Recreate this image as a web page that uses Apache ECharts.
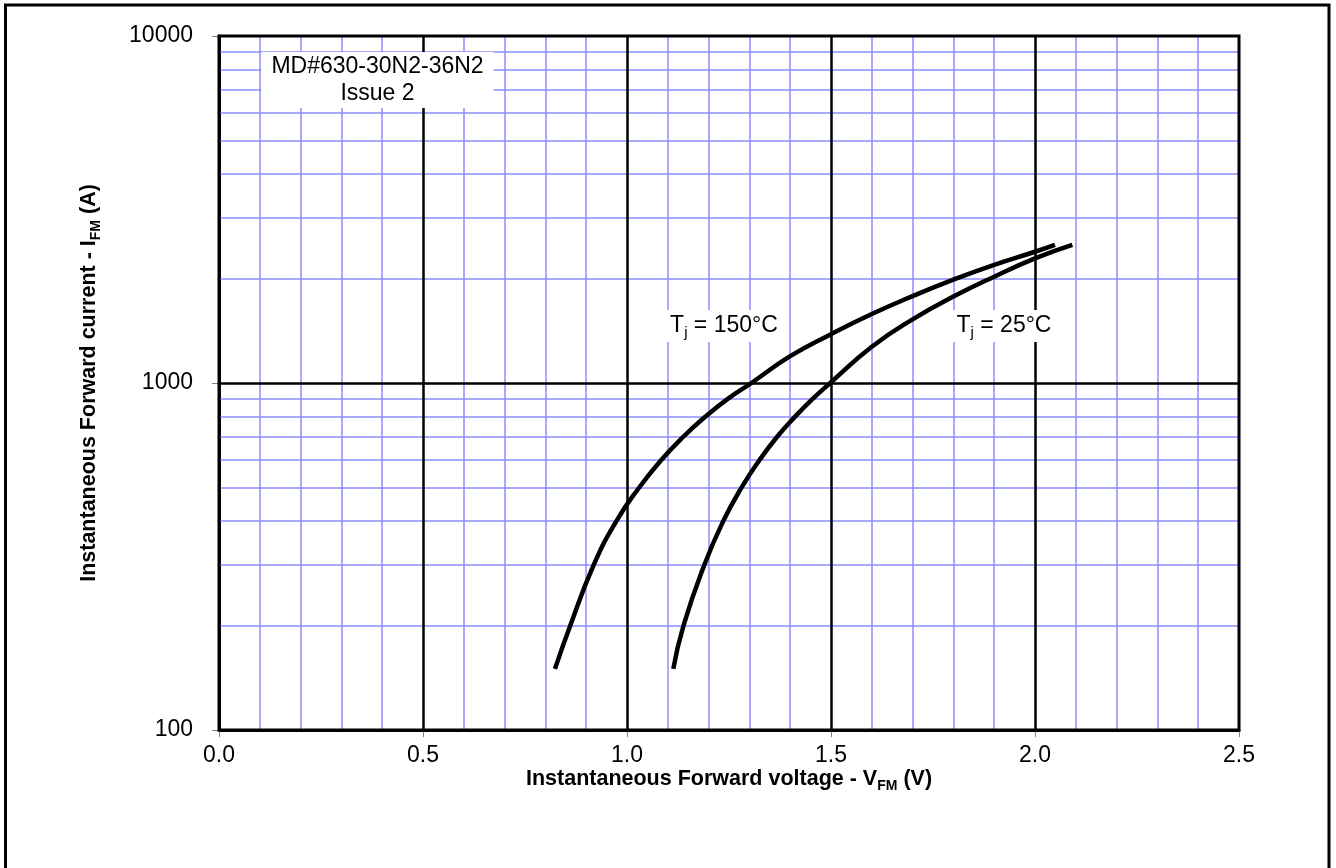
<!DOCTYPE html>
<html>
<head>
<meta charset="utf-8">
<script src="https://cdn.jsdelivr.net/npm/echarts@6/dist/echarts.min.js"></script>
<style>html,body{margin:0;padding:0;background:#fff}#c{width:1336px;height:868px}</style>
</head>
<body>
<div id="c"></div>
<script>
// ---- data ----
const curve150 = [
  [0.8235, 150], [0.861, 200], [0.919, 300], [0.974, 400], [1.030, 500], [1.084, 600],
  [1.138, 700], [1.192, 800], [1.247, 900], [1.305, 1000], [1.40, 1195], [1.50, 1383],
  [1.60, 1580], [1.70, 1780], [1.80, 1985], [1.90, 2190], [2.00, 2389], [2.049, 2500]
];
const curve25 = [
  [1.1135, 150], [1.1385, 200], [1.190, 300], [1.236, 400], [1.281, 500], [1.325, 600],
  [1.368, 700], [1.412, 800], [1.455, 900], [1.498, 1000], [1.60, 1272], [1.70, 1526],
  [1.80, 1774], [1.90, 2025], [2.00, 2286], [2.0915, 2500]
];
const xMajor = [0.5, 1.0, 1.5, 2.0];
const xMinor = [0.1, 0.2, 0.3, 0.4, 0.6, 0.7, 0.8, 0.9, 1.1, 1.2, 1.3, 1.4, 1.6, 1.7, 1.8, 1.9, 2.1, 2.2, 2.3, 2.4];
const yMajor = [1000];
const yMinor = [200, 300, 400, 500, 600, 700, 800, 900, 2000, 3000, 4000, 5000, 6000, 7000, 8000, 9000];
const label150 = [1.2377, 1460];
const label25 = [1.924, 1460];
const labelNote = [0.3885, 7465];
const noteText = ['MD#630-30N2-36N2', 'Issue 2'];

const FONT = 'Arial, "Liberation Sans", sans-serif';
const BLUE = '#8c8cff';

function lines(xs, ys) {
  return xs.map(v => ({ xAxis: v })).concat(ys.map(v => ({ yAxis: v })));
}

const titleRich = {
  a: { fontSize: 21.5, fontWeight: 'bold', fontFamily: FONT, color: '#000', lineHeight: 28 },
  s: { fontSize: 14, fontWeight: 'bold', fontFamily: FONT, color: '#000', lineHeight: 14, verticalAlign: 'bottom' }
};

const chart = echarts.init(document.getElementById('c'), null, { renderer: 'canvas' });
chart.setOption({
  animation: false,
  backgroundColor: '#fff',
  textStyle: { fontFamily: FONT },
  graphic: [{
    type: 'rect', z: 100, silent: true,
    shape: { x: 5.5, y: 5, width: 1323.5, height: 900 },
    style: { fill: 'none', stroke: '#000', lineWidth: 3 }
  }],
  grid: { left: 219, top: 36, right: 97, bottom: 138, show: true, borderColor: '#000', borderWidth: 3, backgroundColor: 'transparent', z: 10 },
  xAxis: {
    type: 'value', min: 0, max: 2.5, interval: 0.5,
    axisLine: { show: true, lineStyle: { color: '#000', width: 3 } },
    axisTick: { show: true, length: 7, lineStyle: { color: '#808080', width: 1 } },
    axisLabel: { color: '#000', fontSize: 23, fontFamily: FONT, margin: 14, formatter: v => v.toFixed(1) },
    splitLine: { show: false },
    name: '{a|Instantaneous Forward voltage - V}{s|FM}{a| (V)}',
    nameLocation: 'middle', nameGap: 35, nameMoveOverlap: false,
    nameTextStyle: { rich: titleRich }
  },
  yAxis: {
    type: 'log', logBase: 10, min: 100, max: 10000,
    axisLine: { show: true, lineStyle: { color: '#000', width: 3 } },
    axisTick: { show: true, length: 7, lineStyle: { color: '#808080', width: 1 } },
    axisLabel: { color: '#000', fontSize: 23, fontFamily: FONT, margin: 26, formatter: v => String(Math.round(v)) },
    splitLine: { show: false },
    name: '{a|Instantaneous Forward current - I}{s|FM}{a| (A)}',
    nameLocation: 'middle', nameGap: 116, nameRotate: 90,
    nameTextStyle: { rich: titleRich }
  },
  series: [
    {
      type: 'line', data: [], z: 1, silent: true,
      markLine: {
        silent: true, symbol: ['none', 'none'], animation: false,
        label: { show: false },
        lineStyle: { color: BLUE, width: 1.5, type: 'solid', opacity: 1 },
        emphasis: { disabled: true },
        data: lines(xMinor, yMinor)
      }
    },
    {
      type: 'line', data: [], z: 2, silent: true,
      markLine: {
        silent: true, symbol: ['none', 'none'], animation: false,
        label: { show: false },
        lineStyle: { color: '#000', width: 2.5, type: 'solid', opacity: 1 },
        emphasis: { disabled: true },
        data: lines(xMajor, yMajor)
      }
    },
    {
      name: 'Tj = 150°C', type: 'line', data: curve150, smooth: 0.5, showSymbol: false, z: 5,
      lineStyle: { color: '#000', width: 4.5 }, silent: true
    },
    {
      name: 'Tj = 25°C', type: 'line', data: curve25, smooth: 0.5, showSymbol: false, z: 5,
      lineStyle: { color: '#000', width: 4.5 }, silent: true
    },
    {
      type: 'scatter', symbolSize: 0, z: 8, silent: true,
      itemStyle: { opacity: 1 },
      data: [
        { value: label150, label: { formatter: '{a|T}{s|j}{a| = 150°C}' } },
        { value: label25, label: { formatter: '{a|T}{s|j}{a| = 25°C}' } }
      ],
      label: {
        show: true, position: 'inside', backgroundColor: '#ffffff', padding: [2, 8, 2, 8], opacity: 1, color: '#000',
        rich: {
          a: { fontSize: 23, fontFamily: FONT, color: '#000', lineHeight: 28 },
          s: { fontSize: 15, fontFamily: FONT, color: '#000', lineHeight: 14, verticalAlign: 'bottom' }
        }
      },
      emphasis: { disabled: true }
    },
    {
      type: 'scatter', symbolSize: 0, z: 8, silent: true,
      itemStyle: { opacity: 1 },
      data: [{ value: labelNote }],
      label: {
        show: true, position: 'inside', backgroundColor: '#ffffff', padding: [1, 10, 1, 10], opacity: 1,
        formatter: noteText.join('\n'), align: 'center',
        fontSize: 23, fontFamily: FONT, color: '#000', lineHeight: 27
      },
      emphasis: { disabled: true }
    }
  ]
});
</script>
</body>
</html>
